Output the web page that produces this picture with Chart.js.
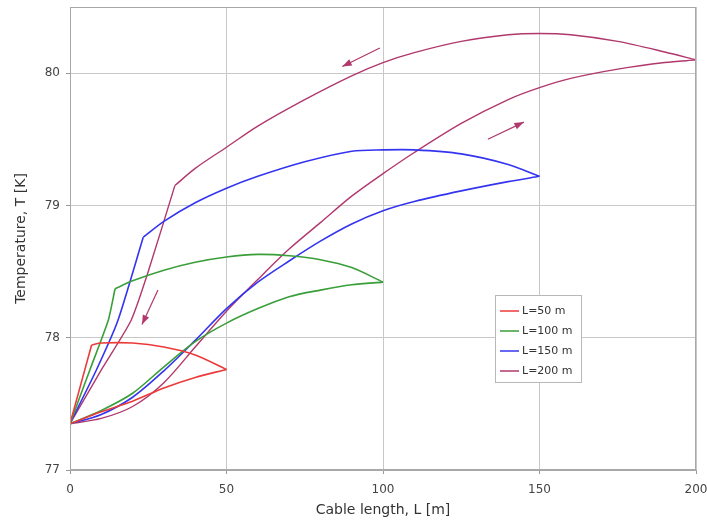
<!DOCTYPE html>
<html>
<head>
<meta charset="utf-8">
<script src="https://cdn.jsdelivr.net/npm/chart.js@4"></script>
<style>
  body { margin: 0; background: #fff; }
</style>
</head>
<body>
<canvas id="loopChart" width="707" height="522"></canvas>
<script>
// axis ticks
const xTicks = [0, 50, 100, 150, 200];
const yTicks = [77, 78, 79, 80];

const seriesLabels = ["L=50 m", "L=100 m", "L=150 m", "L=200 m"];
const seriesColors = ["#ec3a3a", "#3a9e3a", "#3434f0", "#b0386c"];

// each loop: out branch (heating), back branch to the kink, steep drop to the start
const l50OutLen = [0, 10, 20, 30, 40, 50];
const l50OutTemp = [77.35, 77.44, 77.52, 77.62, 77.7, 77.76];
const l50BackLen = [50, 40, 30, 20, 10, 6.9];
const l50BackTemp = [77.76, 77.87, 77.93, 77.96, 77.96, 77.945];
const l50DropLen = [0];
const l50DropTemp = [77.35];

const l100OutLen = [0, 10, 20, 30, 40, 50, 60, 70, 80, 90, 100];
const l100OutTemp = [77.35, 77.45, 77.58, 77.78, 77.97, 78.11, 78.22, 78.31, 78.36, 78.4, 78.42];
const l100BackLen = [100, 90, 80, 70, 60, 50, 40, 30, 20, 14.4];
const l100BackTemp = [78.42, 78.53, 78.59, 78.62, 78.63, 78.61, 78.57, 78.51, 78.43, 78.37];
const l100DropLen = [12.2, 6.4, 0];
const l100DropTemp = [78.13, 77.76, 77.35];

const l150OutLen = [0, 10, 20, 30, 40, 50, 60, 70, 80, 90, 100, 110, 125, 140, 150];
const l150OutTemp = [77.35, 77.42, 77.55, 77.75, 77.98, 78.22, 78.42, 78.58, 78.73, 78.86, 78.96, 79.03, 79.11, 79.18, 79.22];
const l150BackLen = [150, 140, 125, 110, 100, 90, 75, 60, 50, 40, 30, 23.4];
const l150BackTemp = [79.22, 79.31, 79.39, 79.42, 79.42, 79.41, 79.33, 79.22, 79.13, 79.02, 78.88, 78.76];
const l150DropLen = [15.3, 8.5, 0];
const l150DropTemp = [78.13, 77.76, 77.35];

const l200OutLen = [0, 10, 20, 30, 40, 50, 60, 70, 80, 90, 100, 110, 125, 140, 150, 160, 175, 190, 200];
const l200OutTemp = [77.35, 77.39, 77.48, 77.66, 77.93, 78.2, 78.44, 78.67, 78.87, 79.07, 79.24, 79.4, 79.62, 79.8, 79.89, 79.96, 80.03, 80.08, 80.1];
const l200BackLen = [200, 190, 175, 160, 150, 140, 125, 110, 100, 90, 75, 60, 50, 40, 33.5];
const l200BackTemp = [80.1, 80.16, 80.24, 80.29, 80.3, 80.29, 80.24, 80.155, 80.08, 79.98, 79.8, 79.6, 79.44, 79.28, 79.15];
const l200DropLen = [25, 19.5, 10.1, 0];
const l200DropTemp = [78.5, 78.13, 77.76, 77.35];

// direction arrows on the L=200 m loop, [fromX, fromT, toX, toT]
const arrows = [
  [99, 80.19, 87, 80.05],
  [133.5, 79.5, 145, 79.63],
  [28.1, 78.36, 23, 78.1]
];

const loops = [
  [l50OutLen, l50OutTemp, l50BackLen, l50BackTemp, l50DropLen, l50DropTemp],
  [l100OutLen, l100OutTemp, l100BackLen, l100BackTemp, l100DropLen, l100DropTemp],
  [l150OutLen, l150OutTemp, l150BackLen, l150BackTemp, l150DropLen, l150DropTemp],
  [l200OutLen, l200OutTemp, l200BackLen, l200BackTemp, l200DropLen, l200DropTemp],
];

const toPoints = (xs, ys) => xs.map((x, j) => ({ x: x, y: ys[j] }));

const datasets = [];
loops.forEach((lp, i) => {
  const [oL, oT, bL, bT, dL, dT] = lp;
  const base = {
    label: seriesLabels[i],
    borderColor: seriesColors[i],
    borderWidth: i === 3 ? 1.4 : 1.6,
    showLine: true,
    pointRadius: 0,
    fill: false,
  };
  datasets.push({ ...base, data: toPoints(oL, oT), tension: 0.3 });
  datasets.push({ ...base, data: toPoints(bL, bT), tension: 0.3 });
  // drop starts at the kink (last point of the back branch)
  datasets.push({
    ...base,
    data: toPoints([bL[bL.length - 1], ...dL], [bT[bT.length - 1], ...dT]),
    tension: 0.2,
  });
});

// frame, legend box and arrows
const extrasPlugin = {
  id: "extras",
  afterDatasetsDraw(chart) {
    const { ctx, chartArea: a, scales } = chart;
    ctx.save();
    ctx.strokeStyle = "#a8a8a8";
    ctx.lineWidth = 1;
    ctx.strokeRect(a.left + 0.5, a.top + 0.5, a.right - a.left - 1, a.bottom - a.top - 1);

    // arrows
    ctx.strokeStyle = seriesColors[3];
    ctx.fillStyle = seriesColors[3];
    arrows.forEach(([x0, y0, x1, y1]) => {
      const px0 = scales.x.getPixelForValue(x0);
      const py0 = scales.y.getPixelForValue(y0);
      const px1 = scales.x.getPixelForValue(x1);
      const py1 = scales.y.getPixelForValue(y1);
      const ang = Math.atan2(py1 - py0, px1 - px0);
      ctx.lineWidth = 1.2;
      ctx.beginPath();
      ctx.moveTo(px0, py0);
      ctx.lineTo(px1, py1);
      ctx.stroke();
      ctx.beginPath();
      ctx.moveTo(px1, py1);
      ctx.lineTo(px1 - 10 * Math.cos(ang - 0.35), py1 - 10 * Math.sin(ang - 0.35));
      ctx.lineTo(px1 - 10 * Math.cos(ang + 0.35), py1 - 10 * Math.sin(ang + 0.35));
      ctx.closePath();
      ctx.fill();
    });

    // legend
    const bx = 495, by = 295, bw = 86, bh = 87;
    ctx.fillStyle = "#fff";
    ctx.fillRect(bx, by, bw, bh);
    ctx.strokeStyle = "#b8b8b8";
    ctx.lineWidth = 1;
    ctx.strokeRect(bx + 0.5, by + 0.5, bw, bh);
    ctx.font = "11px 'DejaVu Sans', sans-serif";
    ctx.textBaseline = "middle";
    seriesLabels.forEach((label, i) => {
      const y = by + 16 + i * 20;
      ctx.strokeStyle = seriesColors[i];
      ctx.lineWidth = 1.5;
      ctx.beginPath();
      ctx.moveTo(bx + 5, y);
      ctx.lineTo(bx + 24, y);
      ctx.stroke();
      ctx.fillStyle = "#333";
      ctx.fillText(label, bx + 27, y);
    });
    ctx.restore();
  },
};

new Chart(document.getElementById("loopChart").getContext("2d"), {
  type: "scatter",
  data: { datasets: datasets },
  plugins: [extrasPlugin],
  options: {
    responsive: false,
    animation: false,
    layout: { padding: { top: 7, right: 11, left: 0, bottom: 0 } },
    plugins: {
      legend: { display: false },
      tooltip: { enabled: false },
    },
    scales: {
      x: {
        type: "linear",
        min: 0,
        max: 200,
        afterBuildTicks: (scale) => { scale.ticks = xTicks.map((v) => ({ value: v })); },
        afterFit: (scale) => {
          scale.height = 52;
          scale.paddingLeft = 0;
          scale.paddingRight = 0;
        },
        grid: { color: "#c8c8c8", tickLength: 4, tickColor: "#999" },
        border: { color: "#a8a8a8" },
        ticks: { color: "#444", font: { size: 12, family: "'DejaVu Sans', sans-serif" }, padding: 9, maxRotation: 0 },
        title: {
          display: true,
          text: "Cable length, L [m]",
          color: "#333",
          font: { size: 14, family: "'DejaVu Sans', sans-serif" },
          padding: { top: 0, bottom: 3 },
        },
      },
      y: {
        type: "linear",
        min: 77,
        max: 80.5,
        afterBuildTicks: (scale) => { scale.ticks = yTicks.map((v) => ({ value: v })); },
        afterFit: (scale) => {
          scale.width = 70;
          scale.paddingTop = 0;
          scale.paddingBottom = 0;
        },
        grid: { color: "#c8c8c8", tickLength: 4, tickColor: "#999" },
        border: { color: "#a8a8a8" },
        ticks: { color: "#444", font: { size: 12, family: "'DejaVu Sans', sans-serif" }, padding: 6 },
        title: {
          display: true,
          text: "Temperature, T [K]",
          color: "#333",
          font: { size: 14, family: "'DejaVu Sans', sans-serif" },
          padding: { top: 13, bottom: 0 },
        },
      },
    },
  },
});
</script>
</body>
</html>
